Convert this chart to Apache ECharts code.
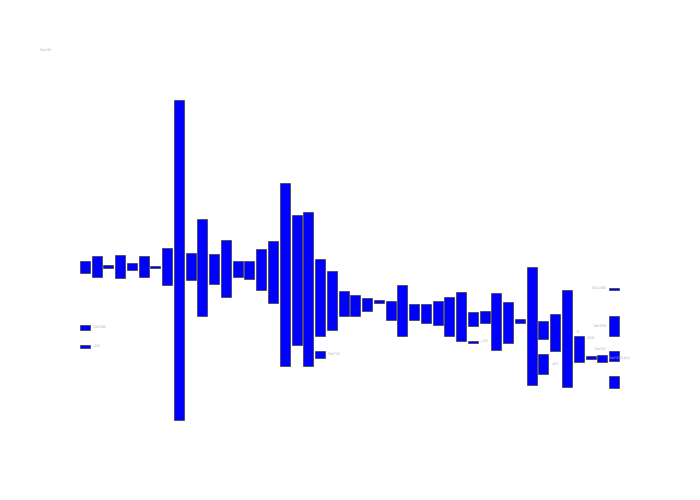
<!DOCTYPE html>
<html>
<head>
<meta charset="utf-8">
<script src="https://cdn.jsdelivr.net/npm/echarts@6/dist/echarts.min.js"></script>
<style>html,body{margin:0;padding:0;background:#fff}#c{width:700px;height:500px}</style>
</head>
<body>
<div id="c"></div>
<script>
// categories (columns) 1..46
var categories = [];
for (var k = 1; k <= 46; k++) categories.push(String(k));

// floating bar segments: column index, low value, high value
var segCategory = [0,0,0,1,2,3,4,5,6,7,8,9,10,11,12,13,14,15,16,17,18,19,20,20,21,22,23,24,25,26,27,28,29,30,31,32,33,33,34,35,36,37,38,39,39,40,41,42,43,44,45,45,45,45];
var segLow  = [167,110,92,163,172,162,170,163,172.5,155,20,160,124,156,143,163,161,150,137,74,95,74,104,82,110,124,124,129,137,120,104,120,117,115,104,99,114,98,117,90,97,117,55,101,66,89,53,78,81.5,78,150,104,79,52];
var segHigh = [179,115,95,184,175,185,177,184,174.5,192,340,187,221,186,200,179,179,191,199,257,225,228,181,89,169,149,145,142,140,139,155,136,136,139,143,148,128,99.5,129,147,138,121,173,119,86,126,150,104,84,85,152,124,89,64];

// small text labels: column, value level, side, text
var labelCategory = [0,0,20,33,39,41,42,45,45,45,45];
var labelValue    = [112.7,94,86,99,76,108,102,152,113.5,90.5,82];
var labelSide     = ['right','right','right','right','right','right','right','left','left','left','inside'];
var labelText     = ['Total 5.000','+3.00','Total 7.00','+1.50','+20.0','+17','-26.00','Total 2.0000','Total 20.00','Total 10.0','Total 12.000 (net)'];
var titleText = 'Chart title';

var segData = [];
for (var i = 0; i < segCategory.length; i++) segData.push([segCategory[i], segLow[i], segHigh[i]]);
var labData = [];
for (var j = 0; j < labelCategory.length; j++) labData.push([labelCategory[j], labelValue[j]]);

var chart = echarts.init(document.getElementById('c'), null, {renderer:'canvas'});
chart.setOption({
  animation:false,
  backgroundColor:'#fff',
  title:{text:titleText, left:35, top:44, textStyle:{fontSize:2.6, color:'#b0b0b0', fontWeight:'normal'}},
  grid:{left:79, right:80, top:80, bottom:60},
  xAxis:{type:'category', data:categories, show:false},
  yAxis:{type:'value', min:0, max:360, show:false},
  series:[{
    type:'custom',
    encode:{x:0, y:[1,2]},
    data:segData,
    renderItem:function(params, api){
      var x = api.value(0), lo = api.value(1), hi = api.value(2);
      var p1 = api.coord([x, hi]), p2 = api.coord([x, lo]);
      var w = api.size([1,0])[0]*0.86;
      return {type:'rect', shape:{x:Math.round(p1[0]-w/2)+0.5, y:Math.round(p1[1])+0.5, width:Math.round(w), height:Math.max(1,Math.round(p2[1]-p1[1]))},
        style:{fill:'#0000ff', stroke:'rgba(70,70,90,0.85)', lineWidth:1}};
    }
  },{
    type:'custom',
    encode:{x:0, y:1},
    data:labData,
    z:5,
    renderItem:function(params, api){
      var i = params.dataIndex;
      var p = api.coord([api.value(0), api.value(1)]);
      var w = api.size([1,0])[0]*0.86;
      var side = labelSide[i];
      var tx = side === 'right' ? p[0]+w/2+3 : (side === 'left' ? p[0]-w/2-3 : p[0]-w/2);
      return {type:'text', x:tx, y:p[1],
        style:{text:labelText[i], fontSize:2.6, fill:'#aab0c4', align: side==='left'?'right':'left', verticalAlign:'middle'}};
    }
  }]
});
</script>
</body>
</html>
